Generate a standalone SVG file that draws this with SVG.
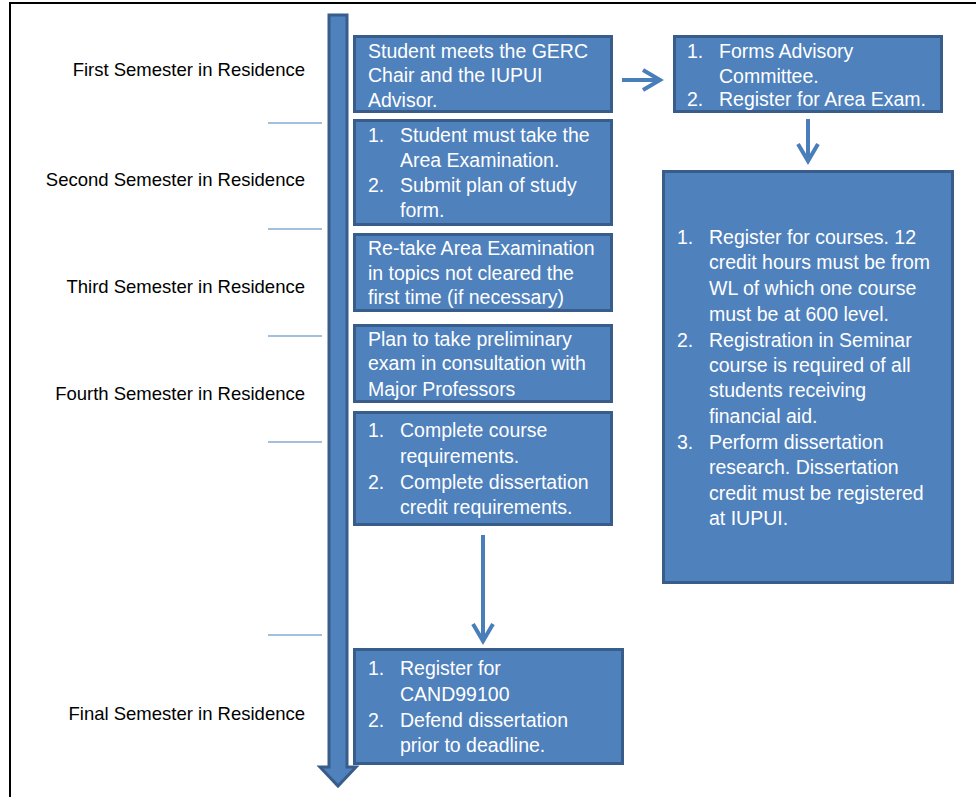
<svg xmlns="http://www.w3.org/2000/svg" width="976" height="797" viewBox="0 0 976 797">
<defs>
<style>
.box{fill:#4F81BD;stroke:#385D8A;stroke-width:3}
.t{font-family:"Liberation Sans",Arial,sans-serif;font-size:19.5px;fill:#FFFFFF}
.lbl{font-family:"Liberation Sans",Arial,sans-serif;font-size:18.5px;fill:#000000;text-anchor:end}
.tick{stroke:#4A7EBB;stroke-width:1.2}
.conn{stroke:#4A7EBB;stroke-width:4;fill:none}
</style>
<marker id="chev" markerUnits="userSpaceOnUse" viewBox="-22 -14 26 28" refX="0" refY="0" markerWidth="26" markerHeight="28" orient="auto">
<path d="M-17,-10 L0,0 L-17,10" fill="none" stroke="#4A7EBB" stroke-width="4"/>
</marker>
</defs>
<rect width="976" height="797" fill="#FFFFFF"/>
<g id="frame">
<path d="M10,797 L10,3 L976,3" fill="none" stroke="#000000" stroke-width="2"/>
</g>
<g id="timeline">
<polygon class="box" points="329,15 347,15 347,767 356,767 338,786 320,767 329,767"/>
</g>
<g id="ticks">
<line class="tick" x1="268" y1="123" x2="322" y2="123"/>
<line class="tick" x1="268" y1="229" x2="322" y2="229"/>
<line class="tick" x1="268" y1="336" x2="322" y2="336"/>
<line class="tick" x1="268" y1="442" x2="322" y2="442"/>
<line class="tick" x1="268" y1="635" x2="322" y2="635"/>
</g>
<g id="labels">
<text class="lbl" x="305" y="76">First Semester in Residence</text>
<text class="lbl" x="305" y="186">Second Semester in Residence</text>
<text class="lbl" x="305" y="293">Third Semester in Residence</text>
<text class="lbl" x="305" y="400">Fourth Semester in Residence</text>
<text class="lbl" x="305" y="720">Final Semester in Residence</text>
</g>
<g id="box1">
<rect class="box" x="354.5" y="36.5" width="257" height="75"/>
<text class="t" x="368" y="58">Student meets the GERC</text>
<text class="t" x="368" y="82">Chair and the IUPUI</text>
<text class="t" x="368" y="107">Advisor.</text>
</g>
<g id="box2">
<rect class="box" x="354.5" y="120.5" width="257" height="104"/>
<text class="t" x="368" y="142">1.</text>
<text class="t" x="400" y="142">Student must take the</text>
<text class="t" x="400" y="167">Area Examination.</text>
<text class="t" x="368" y="192">2.</text>
<text class="t" x="400" y="192">Submit plan of study</text>
<text class="t" x="400" y="217">form.</text>
</g>
<g id="box3">
<rect class="box" x="354.5" y="234.5" width="257" height="76"/>
<text class="t" x="368" y="255">Re-take Area Examination</text>
<text class="t" x="368" y="280">in topics not cleared the</text>
<text class="t" x="368" y="304">first time (if necessary)</text>
</g>
<g id="box4">
<rect class="box" x="354.5" y="325.5" width="257" height="76"/>
<text class="t" x="368" y="346">Plan to take preliminary</text>
<text class="t" x="368" y="370">exam in consultation with</text>
<text class="t" x="368" y="396">Major Professors</text>
</g>
<g id="box5">
<rect class="box" x="354.5" y="412.5" width="257" height="112"/>
<text class="t" x="368" y="437">1.</text>
<text class="t" x="400" y="437">Complete course</text>
<text class="t" x="400" y="463">requirements.</text>
<text class="t" x="368" y="489">2.</text>
<text class="t" x="400" y="489">Complete dissertation</text>
<text class="t" x="400" y="514">credit requirements.</text>
</g>
<g id="box6">
<rect class="box" x="354.5" y="649.5" width="268" height="114"/>
<text class="t" x="368" y="675">1.</text>
<text class="t" x="400" y="675">Register for</text>
<text class="t" x="400" y="701">CAND99100</text>
<text class="t" x="368" y="727">2.</text>
<text class="t" x="400" y="727">Defend dissertation</text>
<text class="t" x="400" y="752">prior to deadline.</text>
</g>
<g id="boxR1">
<rect class="box" x="674.5" y="36.5" width="267" height="75"/>
<text class="t" x="687" y="58">1.</text>
<text class="t" x="719" y="58">Forms Advisory</text>
<text class="t" x="719" y="83">Committee.</text>
<text class="t" x="687" y="106">2.</text>
<text class="t" x="719" y="106">Register for Area Exam.</text>
</g>
<g id="boxR2">
<rect class="box" x="663.5" y="171.5" width="289" height="411"/>
<text class="t" x="677" y="244">1.</text>
<text class="t" x="709" y="244">Register for courses. 12</text>
<text class="t" x="709" y="269">credit hours must be from</text>
<text class="t" x="709" y="295">WL of which one course</text>
<text class="t" x="709" y="321">must be at 600 level.</text>
<text class="t" x="677" y="347">2.</text>
<text class="t" x="709" y="347">Registration in Seminar</text>
<text class="t" x="709" y="372">course is required of all</text>
<text class="t" x="709" y="397">students receiving</text>
<text class="t" x="709" y="423">financial aid.</text>
<text class="t" x="677" y="449">3.</text>
<text class="t" x="709" y="449">Perform dissertation</text>
<text class="t" x="709" y="474">research. Dissertation</text>
<text class="t" x="709" y="500">credit must be registered</text>
<text class="t" x="709" y="525">at IUPUI.</text>
</g>
<g id="connectors">
<line class="conn" x1="622" y1="80" x2="660" y2="80" marker-end="url(#chev)"/>
<line class="conn" x1="808" y1="119" x2="808" y2="161" stroke-width="3.5" marker-end="url(#chev)"/>
<line class="conn" x1="483" y1="535" x2="483" y2="641" stroke-width="3.5" marker-end="url(#chev)"/>
</g>
</svg>
